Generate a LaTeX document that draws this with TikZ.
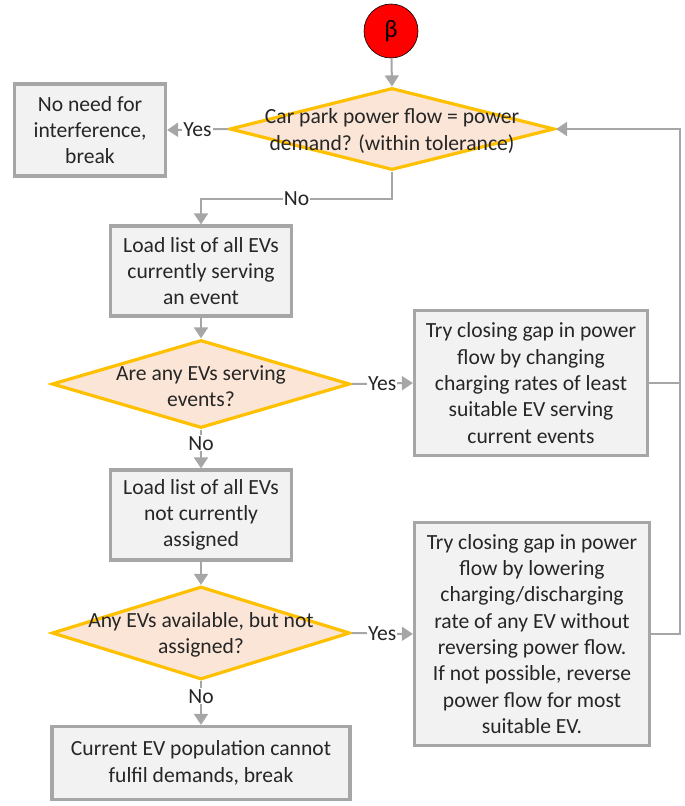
\documentclass[tikz,border=0pt]{standalone}
\usepackage{fontspec}
\setmainfont{Carlito}
\usepackage{xcolor}
\usepackage{tikz}
\usetikzlibrary{shapes.geometric,arrows.meta,calc}
\definecolor{boxfill}{HTML}{F2F2F2}
\definecolor{boxline}{HTML}{A6A6A6}
\definecolor{decfill}{HTML}{FBE5D6}
\definecolor{decline}{HTML}{FFC000}
\definecolor{txtcol}{HTML}{262626}

\begin{document}
\begin{tikzpicture}[x=1pt, y=-1pt,
    font=\fontsize{21.6}{26.3}\selectfont, text=txtcol,
    box/.style={draw=boxline, fill=boxfill, line width=3.2pt, align=center, inner sep=0pt},
    dec/.style={diamond, draw=decline, fill=decfill, line width=3.2pt, inner sep=0pt},
    dectxt/.style={align=center, text=txtcol, yshift=-2pt},
    arr/.style={draw=boxline, line width=2pt, -{Triangle[width=14pt, length=11pt]}},
    lin/.style={draw=boxline, line width=2pt},
    lbl/.style={fill=white, inner sep=1pt}]
    \useasboundingbox (0,0) rectangle (685,806);
    \node[circle, draw=black, line width=0.6pt, fill=red, minimum size=54pt, inner sep=0pt,
      text=black, font=\fontsize{25}{26}\selectfont] (beta) at (391,31) {β};
    \node[dec, minimum width=325pt, minimum height=82pt,
      label={[dectxt]center:Car park power flow = power\\demand? (within tolerance)}] (d1) at (392,129) {};
    \node[box, minimum width=151pt, minimum height=92pt] (nointerf) at (90,130) {No need for\\interference,\\break};
    \node[box, minimum width=181pt, minimum height=90pt] (load1) at (201,271) {Load list of all EVs\\currently serving\\an event};
    \node[dec, minimum width=298pt, minimum height=88pt,
      label={[dectxt]center:Are any EVs serving\\events?}] (d2) at (201,384) {};
    \node[box, minimum width=233pt, minimum height=145pt] (try1) at (531,383) {Try closing gap in power\\flow by changing\\charging rates of least\\suitable EV serving\\current events};
    \node[box, minimum width=181pt, minimum height=90pt] (load2) at (201,515) {Load list of all EVs\\not currently\\assigned};
    \node[dec, minimum width=298pt, minimum height=93pt,
      label={[dectxt]center:Any EVs available, but not\\assigned?}] (d3) at (201,633) {};
    \node[box, minimum width=235pt, minimum height=223pt] (try2) at (532,634) {Try closing gap in power\\flow by lowering\\charging/discharging\\rate of any EV without\\reversing power flow.\\If not possible, reverse\\power flow for most\\suitable EV.};
    \node[box, minimum width=298pt, minimum height=73pt] (final) at (201,763) {Current EV population cannot\\fulfil demands, break};
    \coordinate (ret) at (680,129);

    \draw[arr] (beta) -- (d1.north);
    \draw[arr] (d1.west) -- node[lbl]{Yes} (nointerf.east);
    \draw[arr] (d1.south) -- ++(0,27) -| node[lbl, pos=0.25]{No} (load1.north);
    \draw[arr] (load1.south) -- (d2.north);
    \draw[arr] (d2.east) -- node[lbl]{Yes} (try1.west);
    \draw[arr] (d2.south) -- node[lbl, pos=0.35]{No} (load2.north);
    \draw[arr] (load2.south) -- (d3.north);
    \draw[arr] (d3.east) -- node[lbl]{Yes} (try2.west);
    \draw[arr] (d3.south) -- node[lbl, pos=0.35]{No} (final.north);
    \draw[lin] (try1.east) -- (try1.east -| ret);
    \draw[arr] (try2.east) -| (ret) -- (d1.east);
\end{tikzpicture}
\end{document}
